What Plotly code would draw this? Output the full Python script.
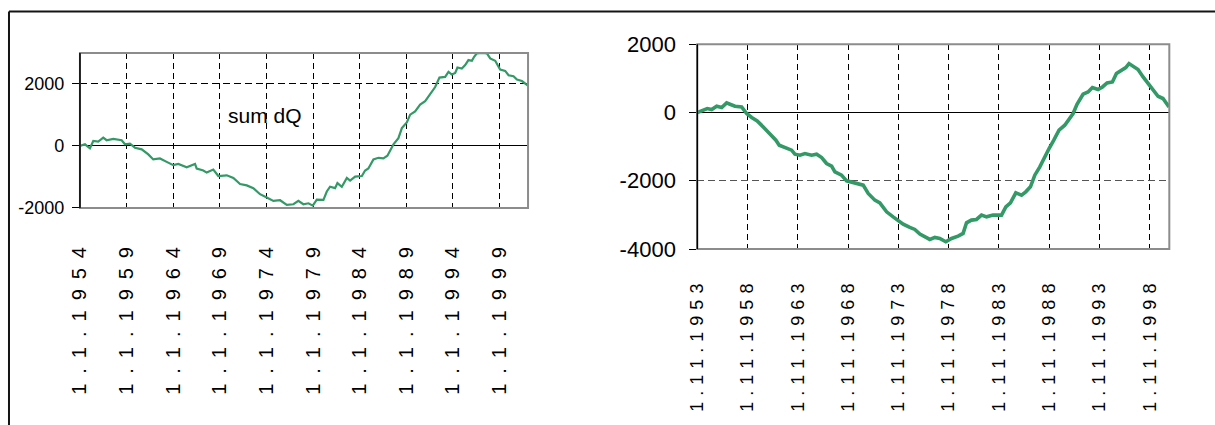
import plotly.graph_objects as go

# ---------------- data ----------------
left_years = [1954.00, 1954.54, 1955.07, 1955.43, 1955.96, 1956.50, 1956.86, 1957.57, 1958.47, 1958.83,
              1959.36, 1959.90, 1960.62, 1961.33, 1961.86, 1962.58, 1963.30, 1964.01, 1964.55, 1965.45,
              1966.34, 1966.52, 1967.23, 1967.59, 1968.30, 1968.84, 1969.74, 1970.45, 1971.17, 1971.89,
              1972.59, 1973.31, 1974.03, 1974.74, 1975.46, 1976.18, 1976.89, 1977.42, 1977.96, 1978.50,
              1978.97, 1979.40, 1980.11, 1980.47, 1980.82, 1981.36, 1981.61, 1982.08, 1982.62, 1982.97,
              1983.51, 1984.23, 1984.58, 1984.93, 1985.47, 1986.01, 1986.54, 1986.97, 1987.34, 1987.62,
              1988.15, 1988.52, 1989.05, 1989.41, 1989.94, 1990.48, 1991.02, 1991.55, 1992.09, 1992.55,
              1993.16, 1993.52, 1993.88, 1994.24, 1994.48, 1994.95, 1995.31, 1995.66, 1996.03, 1996.27,
              1996.56, 1997.10, 1997.64, 1997.99, 1998.53, 1999.06, 1999.60, 1999.96, 2000.49, 2000.86,
              2001.39, 2002.00]
left_sum_dq = [0, 55, -75, 163, 140, 270, 186, 228, 186, 55,
               75, -55, -108, -270, -434, -401, -512, -619, -577, -685,
               -577, -727, -792, -857, -760, -968, -945, -1033, -1229, -1271,
               -1359, -1555, -1663, -1770, -1750, -1900, -1880, -1770, -1880, -1848,
               -1923, -1728, -1738, -1467, -1314, -1359, -1196, -1314, -1033, -1118,
               -988, -968, -792, -727, -434, -381, -401, -316, -108, 55,
               251, 577, 760, 1011, 1118, 1337, 1444, 1685, 1901, 2207,
               2227, 2390, 2305, 2357, 2533, 2500, 2608, 2771, 2748, 2879,
               2990, 3000, 2990, 2826, 2748, 2468, 2422, 2282, 2249, 2142,
               2096, 1956]

right_years = [1953.00, 1953.44, 1953.77, 1953.99, 1954.43, 1954.93, 1955.43, 1955.92, 1956.25, 1956.75,
               1957.41, 1957.91, 1958.41, 1958.96, 1959.56, 1960.23, 1960.82, 1961.15, 1961.72, 1962.38,
               1962.71, 1963.21, 1963.71, 1964.37, 1964.87, 1965.37, 1965.86, 1966.36, 1966.69, 1967.35,
               1967.85, 1968.51, 1969.00, 1969.50, 1970.00, 1970.66, 1971.16, 1971.83, 1972.48, 1972.98,
               1973.48, 1974.14, 1974.64, 1975.14, 1975.63, 1976.13, 1976.63, 1977.12, 1977.72, 1978.29,
               1978.94, 1979.44, 1979.78, 1980.27, 1980.77, 1981.27, 1981.77, 1982.42, 1983.26, 1983.69,
               1984.15, 1984.68, 1985.25, 1985.67, 1986.14, 1986.57, 1987.07, 1987.46, 1987.99, 1988.46,
               1988.98, 1989.55, 1990.05, 1990.38, 1990.77, 1991.37, 1991.87, 1992.30, 1992.86, 1993.30,
               1993.76, 1994.29, 1994.69, 1995.19, 1995.62, 1995.94, 1996.34, 1996.84, 1997.34, 1997.93,
               1998.33, 1998.83, 1999.32, 1999.92]
right_sum_dq = [0, 47, 67, 117, 88, 184, 146, 281, 243, 184,
                164, -29, -146, -246, -421, -615, -811, -957, -1025, -1104,
                -1221, -1250, -1201, -1250, -1221, -1318, -1493, -1572, -1739, -1836,
                -2003, -2062, -2099, -2129, -2372, -2568, -2647, -2910, -3057, -3174,
                -3271, -3367, -3426, -3563, -3641, -3719, -3660, -3690, -3788, -3690,
                -3621, -3543, -3232, -3153, -3133, -3007, -3057, -3007, -3007, -2764,
                -2647, -2354, -2421, -2325, -2178, -1836, -1593, -1347, -1054, -811,
                -518, -372, -146, -29, 243, 536, 603, 732, 673, 750,
                867, 896, 1142, 1239, 1318, 1435, 1356, 1259, 1042, 829,
                673, 477, 410, 164]

left_tick_years = [1954, 1959, 1964, 1969, 1974, 1979, 1984, 1989, 1994, 1999]
left_tick_labels = ["1.1.1954", "1.1.1959", "1.1.1964", "1.1.1969", "1.1.1974",
                    "1.1.1979", "1.1.1984", "1.1.1989", "1.1.1994", "1.1.1999"]
right_tick_years = [1953, 1958, 1963, 1968, 1973, 1978, 1983, 1988, 1993, 1998]
right_tick_labels = ["1.11.1953", "1.11.1958", "1.11.1963", "1.11.1968", "1.11.1973",
                     "1.11.1978", "1.11.1983", "1.11.1988", "1.11.1993", "1.11.1998"]
left_y_ticks = [-2000, 0, 2000]
right_y_ticks = [-4000, -2000, 0, 2000]
annotation_text = "sum dQ"

# ---------------- styling ----------------
GREEN = "#339966"
SANS = "Liberation Sans, Arial, sans-serif"


def spaced(label, gap):
    return gap.join(list(label))


fig = go.Figure()
fig.add_trace(go.Scatter(x=left_years, y=left_sum_dq, mode="lines",
                         line=dict(color=GREEN, width=2.2), xaxis="x", yaxis="y",
                         hoverinfo="skip"))
fig.add_trace(go.Scatter(x=right_years, y=right_sum_dq, mode="lines",
                         line=dict(color=GREEN, width=3.6), xaxis="x2", yaxis="y2",
                         hoverinfo="skip"))

common_x = dict(showgrid=True, gridcolor="#000000", gridwidth=1, griddash="6px,4px",
                zeroline=False, showline=False, ticks="", tickangle=-90,
                tickmode="array", color="#000000", automargin=False)
common_y = dict(showgrid=True, gridwidth=1, zeroline=True, zerolinecolor="#000000",
                zerolinewidth=1, showline=False, ticks="outside", ticklen=7,
                tickcolor="#000000", tickwidth=1, tickmode="array", color="#000000",
                automargin=False)

fig.update_layout(
    width=1215, height=425,
    margin=dict(l=0, r=0, t=0, b=0),
    paper_bgcolor="white", plot_bgcolor="white",
    showlegend=False,
    xaxis=dict(common_x, domain=[0.0658, 0.4346], anchor="y", range=[1954, 2002.05],
               tickvals=left_tick_years,
               ticktext=[spaced(t, "\u2002") for t in left_tick_labels],
               tickfont=dict(family=SANS, size=20, color="#000000"),
               ticklabelstandoff=34),
    yaxis=dict(common_y, domain=[0.5106, 0.8753], anchor="x", range=[-2000, 3000],
               tickvals=left_y_ticks, ticktext=[str(v) for v in left_y_ticks],
               gridcolor="#000000", griddash="7px,4px",
               tickfont=dict(family=SANS, size=18, color="#000000"),
               ticklabelstandoff=4),
    xaxis2=dict(common_x, domain=[0.5739, 0.9624], anchor="y2", range=[1953, 1999.95],
                tickvals=right_tick_years,
                ticktext=[spaced(t, "\u2004") for t in right_tick_labels],
                tickfont=dict(family=SANS, size=18, color="#000000"),
                ticklabelstandoff=30),
    yaxis2=dict(common_y, domain=[0.4141, 0.8958], anchor="x2", range=[-4000, 2000],
                tickvals=right_y_ticks, ticktext=[str(v) for v in right_y_ticks],
                gridcolor="#555555", griddash="7px,4px",
                tickfont=dict(family=SANS, size=22, color="#000000"),
                ticklabelstandoff=9),
)

shapes = []
for xa, ya in (("x", "y"), ("x2", "y2")):
    shapes.append(dict(type="rect", xref=f"{xa} domain", yref=f"{ya} domain",
                       x0=0, x1=1, y0=0, y1=1, layer="above",
                       line=dict(color="#8c8c8c", width=2)))
    shapes.append(dict(type="line", xref=f"{xa} domain", yref=f"{ya} domain",
                       x0=0, x1=0, y0=0, y1=1, layer="above",
                       line=dict(color="#000000", width=1.5)))
shapes.append(dict(type="line", xref="paper", yref="paper", x0=0.0074, x1=1.0,
                   y0=0.9728, y1=0.9728, line=dict(color="#141414", width=2)))
shapes.append(dict(type="line", xref="paper", yref="paper", x0=0.0074, x1=0.0074,
                   y0=0.0, y1=0.9728, line=dict(color="#141414", width=2)))
fig.update_layout(shapes=shapes)

fig.add_annotation(text=annotation_text, xref="x domain", yref="y domain",
                   x=0.413, y=0.594, showarrow=False,
                   font=dict(family=SANS, size=21, color="#000000"))

fig.write_html("out.html")
